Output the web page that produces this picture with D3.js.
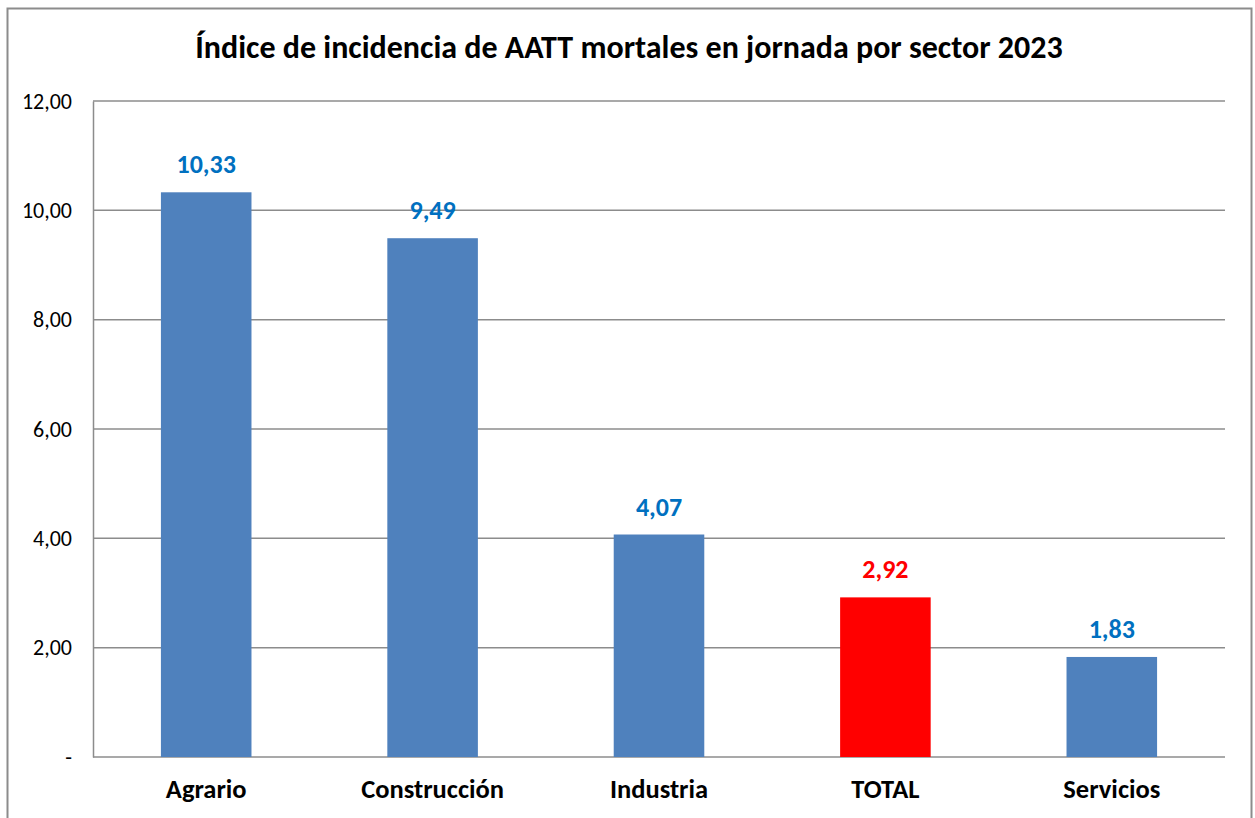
<!DOCTYPE html>
<html>
<head>
<meta charset="utf-8">
<script src="https://cdn.jsdelivr.net/npm/d3@7"></script>
<style>
  body { margin: 0; background: #fff; }
  svg { display: block; font-family: Carlito, Calibri, Lato, sans-serif; }
</style>
</head>
<body>
<div id="chart"></div>
<script>
// datos
const sectores = ["Agrario", "Construcción", "Industria", "TOTAL", "Servicios"]
const indices = [10.33, 9.49, 4.07, 2.92, 1.83]
const yTicks = [0, 2, 4, 6, 8, 10, 12]
const titulo = "Índice de incidencia de AATT mortales en jornada por sector 2023"

const data = sectores.map((s, i) => ({sector: s, valor: indices[i]}))

var width = 1255
var height = 818
var margin = ({left: 93, right: 30, top: 101, bottom: 61})

const fmt = v => v === 0 ? "-" : d3.format(".2f")(v).replace(".", ",")

const svg = d3.select("#chart")
    .append("svg")
    .attr("width", width)
    .attr("height", height)

// marco exterior
svg.append("rect")
    .attr("x", 7.5).attr("y", 8.5)
    .attr("width", 1244).attr("height", 830)
    .attr("fill", "none")
    .attr("stroke", "#8c8c8c")
    .attr("stroke-width", 2)

const x = d3.scaleBand()
    .domain(sectores)
    .range([margin.left, width - margin.right])
    .paddingInner(0.6)
    .paddingOuter(0.3)

const y = d3.scaleLinear()
    .domain([0, 12])
    .range([height - margin.bottom, margin.top])

// rejilla
svg.append("g")
    .selectAll("line")
    .data(yTicks)
    .join("line")
    .attr("x1", margin.left)
    .attr("x2", width - margin.right)
    .attr("y1", d => y(d))
    .attr("y2", d => y(d))
    .attr("stroke", "#8c8c8c")
    .attr("stroke-width", 1.5)

// eje y
const yAxis = svg.append("g")
    .attr("transform", `translate(${margin.left},0)`)
    .call(d3.axisLeft(y).tickValues(yTicks).tickFormat(fmt).tickSize(0).tickPadding(21))
yAxis.select(".domain").attr("stroke", "#8c8c8c").attr("stroke-width", 1.5)
yAxis.selectAll(".tick text")
    .attr("font-size", "22px")
    .attr("font-family", "Carlito, Calibri, Lato, sans-serif")
    .attr("fill", "#000")

// barras
svg.append("g")
    .selectAll("rect")
    .data(data)
    .join("rect")
    .attr("x", d => x(d.sector))
    .attr("y", d => y(d.valor))
    .attr("width", x.bandwidth())
    .attr("height", d => y(0) - y(d.valor))
    .attr("fill", d => d.sector === "TOTAL" ? "#ff0000" : "#4f81bd")

// etiquetas de valor
svg.append("g")
    .selectAll("text")
    .data(data)
    .join("text")
    .attr("x", d => x(d.sector) + x.bandwidth() / 2)
    .attr("y", d => y(d.valor) - 19)
    .attr("text-anchor", "middle")
    .attr("font-size", "26px")
    .attr("font-weight", "bold")
    .attr("fill", d => d.sector === "TOTAL" ? "#ff0000" : "#0070c0")
    .text(d => fmt(d.valor))

// eje x
const xAxis = svg.append("g")
    .attr("transform", `translate(0,${height - margin.bottom})`)
    .call(d3.axisBottom(x).tickSize(0).tickPadding(0))
xAxis.select(".domain").remove()
xAxis.selectAll(".tick text")
    .attr("dy", null)
    .attr("y", 41)
    .attr("font-size", "26.5px")
    .attr("font-weight", "bold")
    .attr("font-family", "Carlito, Calibri, Lato, sans-serif")
    .attr("fill", "#000")

svg.append("text")
    .attr("x", 629)
    .attr("y", 58)
    .attr("text-anchor", "middle")
    .attr("font-size", "32px")
    .attr("font-weight", "bold")
    .text(titulo)
</script>
</body>
</html>
